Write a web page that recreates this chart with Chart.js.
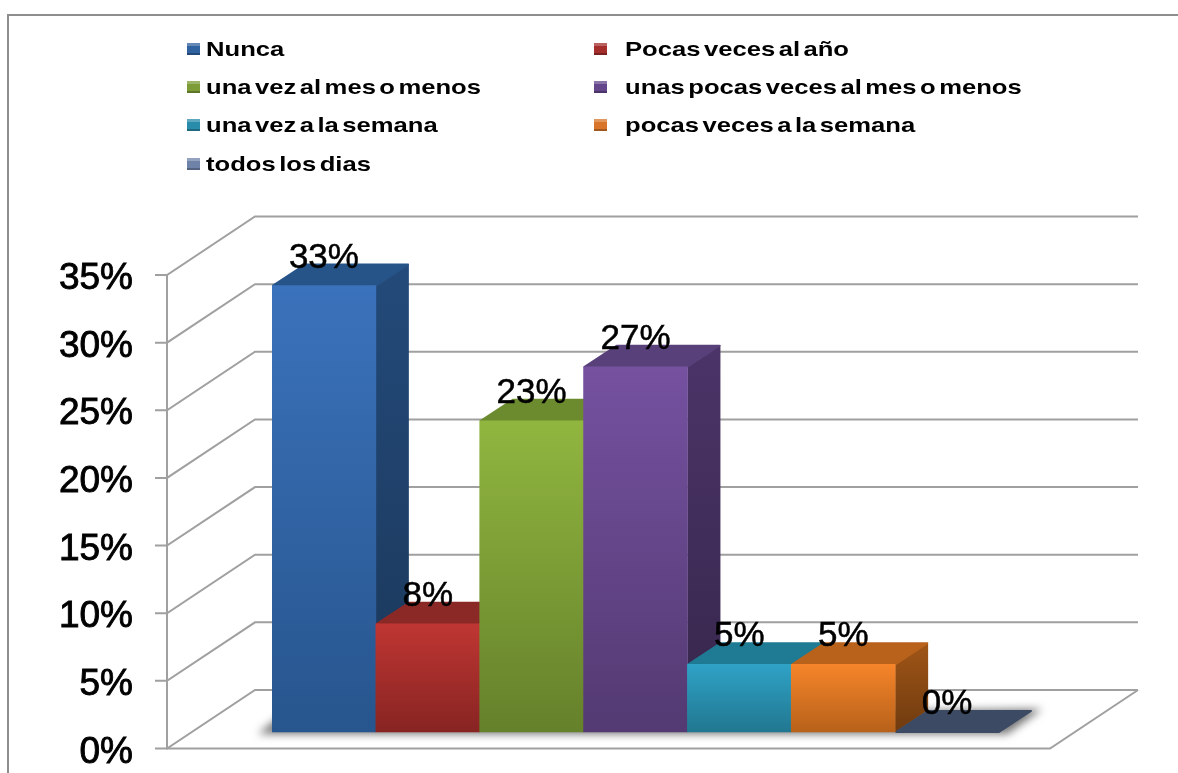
<!DOCTYPE html>
<html>
<head>
<meta charset="utf-8">
<title>Frecuencia</title>
<script src="https://cdn.jsdelivr.net/npm/chart.js@4/dist/chart.umd.min.js"></script>
<style>
    html, body { margin: 0; padding: 0; background: #fff; }
    #wrap { position: relative; width: 1178px; height: 773px; overflow: hidden; }
    #frame { position: absolute; left: 7px; top: 14px; width: 1300px; height: 900px; border: 2px solid #8e8e8e; }
    #chart { position: absolute; left: 0; top: 0; width: 1178px; height: 773px; }
    .legend-item {
        position: absolute; white-space: nowrap; color: #000;
        font: bold 21px "Liberation Sans", Arial, sans-serif; line-height: 24px;
        transform: scaleX(1.22); transform-origin: left center; word-spacing: -3px;
    }
    .legend-box { position: absolute; width: 13px; height: 12px; box-sizing: border-box; border-top: 3px solid rgba(255,255,255,0.25); border-bottom: 2px solid rgba(0,0,0,0.25); }
</style>
</head>
<body>
<div id="wrap">
    <div id="frame"></div>
    <canvas id="chart" width="1178" height="773"></canvas>
</div>
<script>
const categories = ['Nunca', 'Pocas veces al año', 'una vez al mes o menos', 'unas pocas veces al mes o menos',
    'una vez a la semana', 'pocas veces a la semana', 'todos los dias'];
const percentages = [33, 8, 23, 27, 5, 5, 0];
const tickValues = [0, 5, 10, 15, 20, 25, 30, 35];

// face colours per bar: front top, front bottom, roof, side top, side bottom
const frontTop = ['#3a72bb', '#bf3633', '#90b63f', '#7551a0', '#2fa2c6', '#f6852a', '#3c4a63'];
const frontBottom = ['#27558d', '#872422', '#65812b', '#533a72', '#217790', '#b7611a', '#3c4a63'];
const roofColors = ['#275488', '#8a2926', '#6c8b2f', '#58407a', '#1f7a93', '#b8621b', '#3c4a63'];
const sideTop = ['#234a7a', '#7a2422', '#5e7a29', '#4b3468', '#1c6a80', '#a05517', '#3c4a63'];
const sideBottom = ['#1b3759', '#5a1a18', '#465b1e', '#36264b', '#14505f', '#6f3b0f', '#3c4a63'];
const legendColors = ['#30629f', '#a32e2b', '#7d9c37', '#64468a', '#2a8cab', '#d9752a', '#6f83a8'];

// depth of the floor and of the bars, in pixels
const wallDx = 88, wallDy = 58.5;
const barDx = 33, barDy = 22;
const floorRight = 1050;

// walls, floor and the hidden faces of the bars, painted before the fronts
const box3d = {
    id: 'box3d',
    beforeDatasetsDraw(chart) {
        const c = chart.ctx;
        const yAxis = chart.scales.y;
        const axisX = 167;
        const bottom = yAxis.getPixelForValue(0);
        const top = yAxis.getPixelForValue(35);
        const line = (pts) => {
            c.beginPath();
            pts.forEach((p, i) => i ? c.lineTo(p[0], p[1]) : c.moveTo(p[0], p[1]));
            c.stroke();
        };
        c.save();
        c.strokeStyle = '#a0a0a0';
        c.lineWidth = 2;
        tickValues.forEach(v => {
            const y = yAxis.getPixelForValue(v);
            line([[axisX - 12, y], [axisX, y], [axisX + wallDx, y - wallDy], [floorRight + wallDx, y - wallDy]]);
        });
        line([[axisX, top], [axisX, bottom], [floorRight, bottom], [floorRight + wallDx, bottom - wallDy]]);

        // soft shadow on the floor around the row of bars, the shape itself stays off canvas
        const meta = chart.getDatasetMeta(0).data;
        const baseY = meta[0].base;
        const left = meta[0].x - meta[0].width / 2;
        const last = meta[meta.length - 1];
        const right = last.x + last.width / 2;
        const away = 3000;
        c.save();
        c.shadowColor = 'rgba(0,0,0,0.55)';
        c.shadowBlur = 8;
        c.shadowOffsetX = away;
        c.fillStyle = '#000';
        c.beginPath();
        c.moveTo(left - 14 - away, baseY + 2);
        c.lineTo(left + 6 - away, baseY - 14);
        c.lineTo(right + barDx + 10 - away, baseY - barDy - 1);
        c.lineTo(right + 8 - away, baseY + 2);
        c.closePath();
        c.fill();
        c.restore();

        c.lineJoin = 'round';
        c.lineWidth = 2;
        meta.forEach((bar, i) => {
            const l = bar.x - bar.width / 2, r = bar.x + bar.width / 2, t = bar.y, b = bar.base;
            if (b - t > 0.5) {
                const sg = c.createLinearGradient(0, t - barDy, 0, b);
                sg.addColorStop(0, sideTop[i]);
                sg.addColorStop(1, sideBottom[i]);
                c.fillStyle = sg;
                c.beginPath();
                c.moveTo(r, t);
                c.lineTo(r + barDx, t - barDy);
                c.lineTo(r + barDx, b - barDy);
                c.lineTo(r, b);
                c.closePath();
                c.fill();
            }
            c.fillStyle = roofColors[i];
            c.strokeStyle = roofColors[i];
            c.beginPath();
            c.moveTo(l + 1, t);
            c.lineTo(l + barDx, t - barDy + 1);
            c.lineTo(r + barDx - 1, t - barDy + 1);
            c.lineTo(r, t);
            c.closePath();
            c.fill();
            c.stroke();
        });
        c.restore();
    },
    afterDatasetsDraw(chart) {
        const c = chart.ctx;
        c.save();
        c.fillStyle = '#000';
        c.strokeStyle = '#000';
        c.lineWidth = 0.5;
        c.font = '35px "Liberation Sans", Arial, sans-serif';
        c.textAlign = 'center';
        c.textBaseline = 'alphabetic';
        chart.getDatasetMeta(0).data.forEach((bar, i) => {
            c.fillText(percentages[i] + '%', bar.x, bar.y - 18);
            c.strokeText(percentages[i] + '%', bar.x, bar.y - 18);
        });
        c.restore();
    }
};

function frontGradient(context) {
    const chart = context.chart;
    const i = context.dataIndex;
    if (i === undefined || !chart.chartArea) return frontTop[0];
    const axis = chart.scales.bars;
    const g = chart.ctx.createLinearGradient(0, axis.getPixelForValue(percentages[i]), 0, axis.getPixelForValue(0));
    g.addColorStop(0, frontTop[i]);
    g.addColorStop(1, frontBottom[i]);
    return g;
}

new Chart(document.getElementById('chart'), {
    type: 'bar',
    data: {
        labels: categories,
        datasets: [{
            data: percentages,
            yAxisID: 'bars',
            backgroundColor: frontGradient,
            categoryPercentage: 1,
            barPercentage: 1,
            borderWidth: 0
        }]
    },
    options: {
        responsive: false,
        maintainAspectRatio: false,
        animation: false,
        layout: { padding: { left: 0, top: 275, right: 179, bottom: 24.5 } },
        plugins: { legend: { display: false }, tooltip: { enabled: false } },
        scales: {
            x: { display: false },
            // value axis seen on the front edge of the box
            y: {
                position: 'left',
                min: 0,
                max: 35,
                afterFit: scale => { scale.width = 272; },
                afterBuildTicks: scale => { scale.ticks = tickValues.map(v => ({ value: v })); },
                // a long invisible tick pushes the labels left of the box, big ticks.padding would eat plot height
                grid: { color: 'transparent', drawOnChartArea: false, drawTicks: true, tickLength: 137 },
                border: { display: false },
                ticks: {
                    padding: 2,
                    labelOffset: 4,
                    color: '#000',
                    textStrokeColor: '#000',
                    textStrokeWidth: 0.9,
                    font: { family: '"Liberation Sans", Arial, sans-serif', size: 37, lineHeight: 1 },
                    callback: v => v + '%'
                }
            },
            // the bars stand further back, so their zero sits above the box corner
            bars: { display: false, min: -1.22, max: 33.78 }
        }
    },
    plugins: [box3d]
});

// two column legend above the box
const wrap = document.getElementById('wrap');
categories.forEach((name, i) => {
    const col = i % 2, row = Math.floor(i / 2);
    const box = document.createElement('div');
    box.className = 'legend-box';
    box.style.left = (col ? 594 : 187) + 'px';
    box.style.top = (43 + row * 38.2) + 'px';
    box.style.background = legendColors[i];
    wrap.appendChild(box);
    const item = document.createElement('div');
    item.className = 'legend-item';
    item.textContent = name;
    item.style.left = (col ? 625 : 206) + 'px';
    item.style.top = (37 + row * 38.2) + 'px';
    wrap.appendChild(item);
});
</script>
</body>
</html>
